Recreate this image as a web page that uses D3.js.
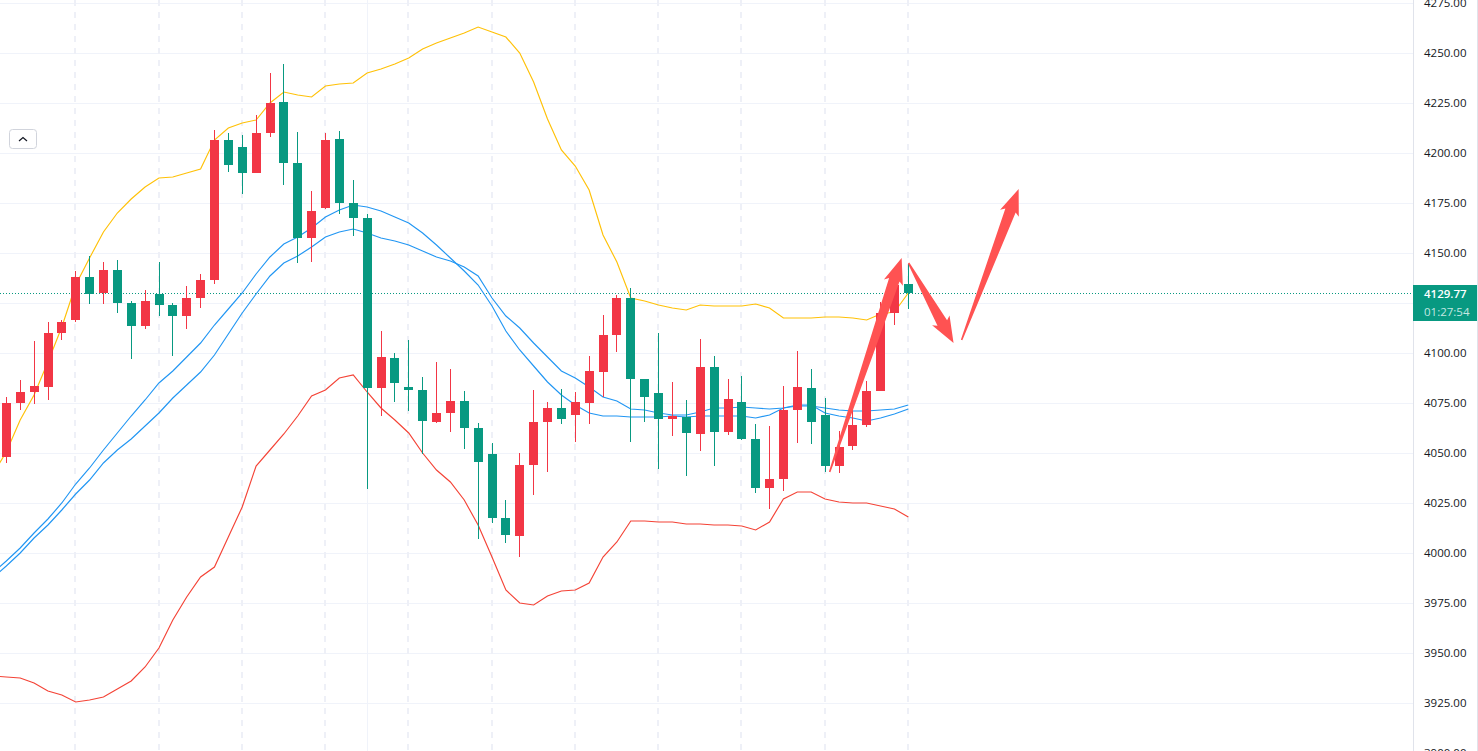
<!DOCTYPE html>
<html>
<head>
<title>Candles | D3</title>
<script src="https://d3js.org/d3.v7.min.js" charset="utf-8"></script>
<style>
 html, body { margin: 0; padding: 0; background: #fff; overflow: hidden; }
 svg { display: block; }
 text { font-family: "Open Sans", sans-serif; font-size: 12px; }
</style>
</head>
<body>
<script>
// candles, the first one sits just off the left edge
var opens = [4040,4048,4075,4080.5,4083,4110,4116.5,4138,4130,4141.5,4125,4113.5,4129.5,4124,4118.5,4127.5,4136.5,4206.5,4203,4190,4210,4225.5,4195,4157.5,4172.5,4207,4175,4167.5,4082.5,4097.5,4083,4081.5,4065.5,4070,4076,4062.5,4049.5,4017.5,4008.5,4044,4065.5,4072.5,4069,4075,4090.5,4109,4127.5,4087,4080,4067,4068,4059.5,4093,4060.5,4075.5,4057,4032.5,4037,4071.5,4082.5,4069,4043.5,4053.5,4064,4081,4120,4134.5];
var highs = [4065,4078,4086.5,4106,4115.5,4116.5,4141,4148.5,4145.5,4146.5,4126,4131.5,4145.5,4125,4133.5,4139.5,4211.5,4210,4209,4219,4240,4244.5,4210.5,4181,4210,4211,4186.5,4169.5,4111,4100,4106.5,4088,4095.5,4092,4081,4065,4055,4026.5,4050,4081.5,4075.5,4082,4080.5,4098.5,4119,4129,4132.5,4087,4110,4085.5,4076.5,4107,4098.5,4087,4088.5,4064.5,4063.5,4083.5,4101,4092,4077.5,4061,4075,4086,4125.5,4136.5,4144.5];
var lows = [4035,4045,4071.5,4074.5,4076.5,4106.5,4115.5,4124.5,4124.5,4120,4097,4112,4118.5,4098.5,4112,4122.5,4134.5,4190.5,4179.5,4190,4208,4184,4145,4145.5,4172,4169.5,4158.5,4032,4068.5,4075.5,4071,4049.5,4065,4060.5,4052,4007,4015,4005,3998,4029,4040.5,4064.5,4055.5,4064.5,4078,4100.5,4055.5,4065.5,4042,4058.5,4038.5,4051,4043.5,4059,4056.5,4030,4022,4031,4055,4054.5,4040.5,4040,4051.5,4063,4081,4114,4122];
var closes = [4060,4075,4080.5,4083.5,4110,4115.5,4138,4129.5,4141.5,4125,4113.5,4126,4124,4118.5,4127.5,4136.5,4206.5,4194,4190,4210,4225,4195,4157.5,4171,4206.5,4175,4167.5,4082.5,4098,4085,4081.5,4066,4070,4076,4062.5,4045.5,4017.5,4009,4044,4065.5,4072.5,4067,4075.5,4091,4109,4127.5,4087,4078,4067,4068.5,4060,4093,4060.5,4077,4057,4032.5,4037,4071.5,4083,4065.5,4043.5,4053,4064,4081,4120,4134,4129.77];

// indicator lines
var upperBand = [4039,4050.5,4066.5,4079,4095.5,4113,4134,4147.5,4160.5,4170,4177,4183,4187.5,4188,4190,4192,4206.5,4212.5,4215,4216.5,4225,4230.5,4229,4228,4233.5,4234.5,4235,4240,4242,4244.5,4247.5,4252,4255,4257.5,4260,4263,4260.5,4258,4250,4235.5,4217,4201.5,4193.5,4181.5,4159,4145.5,4127.5,4126,4124,4122.5,4121.5,4124,4123.5,4123.5,4123.5,4124.5,4122.5,4117.5,4117.5,4117.5,4118,4118,4117.5,4116.5,4119.5,4120.5,4130];
var lowerBand = [3938.5,3938,3937.5,3935,3931,3929,3925.5,3926.5,3928,3932,3936,3943,3952.5,3966.5,3978,3988,3993,4008,4023,4043.5,4051.5,4059.5,4068.5,4078.5,4081.5,4087.5,4089,4080.5,4072.5,4066.5,4060,4050,4041.5,4035.5,4026.5,4014,3998,3981.5,3975,3974,3978.5,3981,3981.5,3985,3998,4005.5,4016,4016,4015.5,4015.5,4014.5,4014.5,4014,4014,4013.5,4011.5,4015.5,4027,4030.5,4030.5,4027,4025.5,4025,4025,4023.5,4022,4018];
var fastLine = [3990,3996,4002.5,4010,4017,4025,4034.5,4042.5,4051.5,4060,4068.5,4076.5,4085,4091,4098,4105,4114,4122,4130,4139.5,4148,4154.5,4158,4162.5,4168,4171.5,4174,4173,4171,4168,4165,4160,4154,4147.5,4141,4134,4123.5,4111,4101.5,4093.5,4085.5,4079,4074,4070,4068.5,4068.5,4068,4068,4068,4068.5,4068,4068.5,4068.5,4068.5,4068.5,4067.5,4069,4072.5,4074,4074,4070,4068.5,4067.5,4066,4067.5,4069.5,4072];
var slowLine = [3987.5,3993.5,4000,4007.5,4014,4021.5,4029.5,4036.5,4045,4051.5,4057,4063.5,4070,4077.5,4084,4090.5,4099,4109.5,4120,4129.5,4138.5,4145,4148.5,4153,4158,4160.5,4162,4160,4157.5,4156,4154,4151,4148,4146,4143,4138.5,4127.5,4118.5,4112.5,4105,4098,4091,4087.5,4083,4078,4076,4072,4071.5,4070,4069,4069,4070.5,4072.5,4072.5,4073,4072.5,4072,4072.5,4073.5,4073.5,4072.5,4071.5,4071,4071,4071.5,4072,4074];

var gridPrices = [4275,4250,4225,4200,4175,4150,4125,4100,4075,4050,4025,4000,3975,3950,3925,3900];
// 4125.00 sits under the last price label, so no tick text for it
var tickLabels = [4275,4250,4225,4200,4175,4150,4100,4075,4050,4025,4000,3975,3950,3925,3900];
var dashedBars = [5,11,17,23,29,35,41,47,53,59,65];
var solidBars = [26];

// hand drawn arrows, [bar, price]
var arrowTails = [[59.36,4040.5],[65.05,4145],[68.87,4106.5]];
var arrowTips = [[64.55,4147.5],[68.29,4105],[72.98,4182]];

var lastPrice = 4129.77;
var countdown = "01:27:54";

var width = 1478;
var height = 751;
var axisX = 1413;
var upColor = "#f23645";
var downColor = "#089981";

var bars = d3.range(opens.length).map(function(i) {
  return { bar: i - 1, open: opens[i], high: highs[i], low: lows[i], close: closes[i] };
});

var x = d3.scaleLinear().domain([0, 65]).range([5.9, 907.9]);
var y = d3.scaleLinear().domain([4250, 3925]).range([53, 703]);

function px(v) { return Math.round(v) + 0.5; }

var svg = d3.select("body").append("svg")
  .attr("width", width)
  .attr("height", height);

// grid
var grid = svg.append("g").attr("shape-rendering", "crispEdges");
grid.selectAll("line.h")
  .data(gridPrices)
  .enter().append("line")
  .attr("class", "h")
  .attr("x1", 0).attr("x2", axisX)
  .attr("y1", function(d) { return px(y(d)); })
  .attr("y2", function(d) { return px(y(d)); })
  .attr("stroke", "#f0f3fa");
grid.selectAll("line.d")
  .data(dashedBars)
  .enter().append("line")
  .attr("class", "d")
  .attr("x1", function(d) { return Math.round(x(d)); })
  .attr("x2", function(d) { return Math.round(x(d)); })
  .attr("y1", 0).attr("y2", height)
  .attr("stroke", "#eef0f7")
  .attr("stroke-width", 2)
  .attr("stroke-dasharray", "6,6");
grid.selectAll("line.s")
  .data(solidBars)
  .enter().append("line")
  .attr("class", "s")
  .attr("x1", function(d) { return px(x(d)); })
  .attr("x2", function(d) { return px(x(d)); })
  .attr("y1", 0).attr("y2", height)
  .attr("stroke", "#f0f3fa");

// last price line
svg.append("line")
  .attr("x1", 0).attr("x2", axisX)
  .attr("y1", 293.5).attr("y2", 293.5)
  .attr("stroke", downColor)
  .attr("stroke-dasharray", "1,2")
  .attr("shape-rendering", "crispEdges");

// indicator lines go under the candles
var lineGen = d3.line()
  .x(function(d, i) { return x(i - 1) + 0.4; })
  .y(function(d) { return y(d); });
var series = [
  { values: upperBand, color: "#ffc107" },
  { values: lowerBand, color: "#f44336" },
  { values: fastLine, color: "#2196f3" },
  { values: slowLine, color: "#2196f3" }
];
svg.append("g").selectAll("path")
  .data(series)
  .enter().append("path")
  .attr("fill", "none")
  .attr("stroke", function(d) { return d.color; })
  .attr("stroke-width", 1.15)
  .attr("d", function(d) { return lineGen(d.values); });

// candles
var candles = svg.append("g").attr("shape-rendering", "crispEdges");
function barColor(d) { return d.close >= d.open ? upColor : downColor; }
candles.selectAll("line")
  .data(bars)
  .enter().append("line")
  .attr("x1", function(d) { return px(x(d.bar)); })
  .attr("x2", function(d) { return px(x(d.bar)); })
  .attr("y1", function(d) { return y(d.high); })
  .attr("y2", function(d) { return y(d.low); })
  .attr("stroke", barColor);
candles.selectAll("rect")
  .data(bars)
  .enter().append("rect")
  .attr("x", function(d) { return Math.round(x(d.bar)) - 4; })
  .attr("width", 9)
  .attr("y", function(d) { return y(Math.max(d.open, d.close)); })
  .attr("height", function(d) { return Math.max(1, Math.abs(y(d.open) - y(d.close))); })
  .attr("fill", barColor);

// arrows, head size is fixed in pixels
var headLen = 26, headHalf = 10, shaftHalf = 5.5, tailHalf = 0.8;
function arrowShape(i) {
  var tx = x(arrowTails[i][0]), ty = y(arrowTails[i][1]);
  var hx = x(arrowTips[i][0]), hy = y(arrowTips[i][1]);
  var len = Math.hypot(hx - tx, hy - ty);
  var ux = (hx - tx) / len, uy = (hy - ty) / len;
  function at(along, side) {
    return [hx - ux * along - uy * side, hy - uy * along + ux * side];
  }
  return [at(len, tailHalf), at(headLen - 3, shaftHalf), at(headLen, headHalf), [hx, hy], at(headLen, -headHalf), at(headLen - 3, -shaftHalf), at(len, -tailHalf)];
}
svg.append("g").selectAll("polygon")
  .data(d3.range(arrowTails.length))
  .enter().append("polygon")
  .attr("points", function(i) { return arrowShape(i).join(" "); })
  .attr("fill", "#ff5252");

// price axis
svg.append("rect")
  .attr("x", axisX).attr("y", 0)
  .attr("width", width - axisX).attr("height", height)
  .attr("fill", "#fff");
var axis = svg.append("g")
  .attr("transform", "translate(" + axisX + ",0)")
  .call(d3.axisRight(y).tickValues(tickLabels).tickFormat(d3.format(".2f")).tickSize(0).tickPadding(11));
axis.select(".domain").remove();
axis.selectAll("text").attr("fill", "#131722").style("font-size", "11.5px").style("font-family", "'Open Sans', sans-serif");
svg.append("line")
  .attr("x1", axisX + 0.5).attr("x2", axisX + 0.5)
  .attr("y1", 0).attr("y2", height)
  .attr("stroke", "#e0e3eb");
svg.append("rect")
  .attr("x", width - 1).attr("y", 0)
  .attr("width", 1).attr("height", height)
  .attr("fill", "#e0e3eb");

// last price label
svg.append("rect")
  .attr("x", axisX).attr("y", 285)
  .attr("width", 64).attr("height", 36)
  .attr("fill", downColor);
svg.append("text")
  .attr("x", axisX + 11).attr("y", 298)
  .attr("fill", "#fff")
  .style("font-size", "11.5px").style("font-weight", 600)
  .text(d3.format(".2f")(lastPrice));
svg.append("text")
  .attr("x", axisX + 11).attr("y", 316)
  .attr("fill", "#c4e8e1")
  .style("font-size", "11.5px")
  .text(countdown);

// collapse button
svg.append("rect")
  .attr("x", 9.5).attr("y", 129.5)
  .attr("width", 27).attr("height", 19)
  .attr("rx", 3)
  .attr("fill", "#fff")
  .attr("stroke", "#d1d4dc");
svg.append("path")
  .attr("d", d3.line()([[19, 141], [23, 137.5], [27, 141]]))
  .attr("fill", "none")
  .attr("stroke", "#131722")
  .attr("stroke-width", 1.2);
</script>
</body>
</html>
